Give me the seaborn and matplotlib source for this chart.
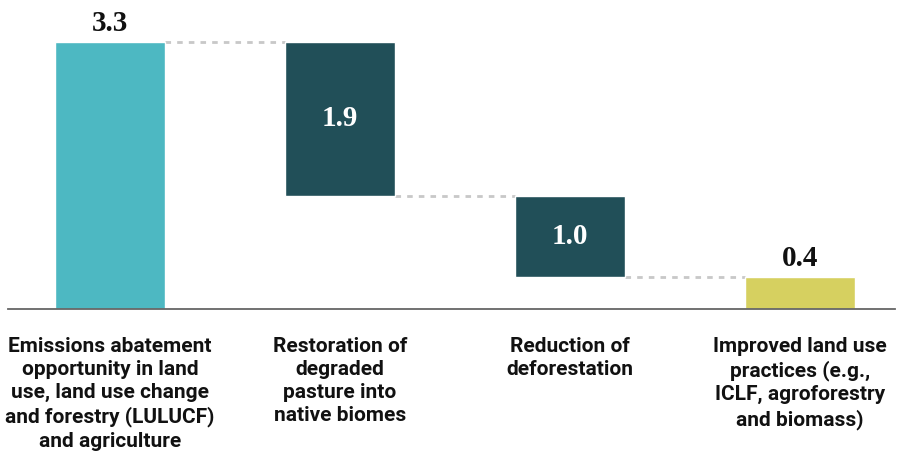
import pandas as pd
import matplotlib
matplotlib.use("Agg")
import matplotlib.pyplot as plt
import seaborn as sns

# data
categories = [
    "Emissions abatement\nopportunity in land\nuse, land use change\nand forestry (LULUCF)\nand agriculture",
    "Restoration of\ndegraded\npasture into\nnative biomes",
    "Reduction of\ndeforestation",
    "Improved land use\npractices (e.g.,\nICLF, agroforestry\nand biomass)",
]
values = [3.3, 1.9, 1.0, 0.4]
kinds = ["total", "step", "step", "total"]
colors = ["#4db8c2", "#214f58", "#214f58", "#d6d060"]

# waterfall bases: totals start at 0, steps hang down from the previous level
bases = []
level = 0
for v, k in zip(values, kinds):
    if k == "total":
        bases.append(0)
        level = v
    else:
        level = level - v
        bases.append(level)

df = pd.DataFrame({"category": categories, "value": values, "base": bases})

sns.set_style("white")
plt.rcParams["font.family"] = ["Roboto", "DejaVu Sans"]

fig = plt.figure(figsize=(9.03, 4.51), dpi=100)
ax = fig.add_axes([8 / 903, 142 / 451, 887 / 903, 309 / 451])

sns.barplot(data=df, x="category", y="value", hue="category", palette=colors,
            legend=False, width=0.48, saturation=1, ax=ax)

# move each bar to its waterfall base
for patch, b in zip(ax.patches, bases):
    patch.set_y(b)

# dashed connectors between bars
for i in range(len(values) - 1):
    top = bases[i] + values[i] if kinds[i] == "total" else bases[i]
    ax.plot([i + 0.24, i + 1 - 0.24], [top, top], color="#c8c8c8",
            lw=2, ls=(0, (2, 2.2)), zorder=0)

# value labels
for i, (v, b, k) in enumerate(zip(values, bases, kinds)):
    if k == "total":
        ax.annotate(f"{v:.1f}", (i, b + v), xytext=(0, 8), textcoords="offset points",
                    ha="center", va="baseline", fontsize=21, fontweight="bold",
                    family="Liberation Serif", color="#111111")
    else:
        ax.text(i, b + v / 2, f"{v:.1f}", ha="center", va="center", fontsize=21,
                fontweight="bold", family="Liberation Serif", color="white")

ax.set_xlim(-0.443, 3.413)
ax.set_ylim(0, 309 / 80.9)
ax.set_xlabel("")
ax.set_ylabel("")
ax.set_yticks([])
ax.tick_params(axis="x", length=0, pad=20)
ax.set_xticks(range(len(categories)))
ax.set_xticklabels(categories, fontsize=15, fontweight="bold", color="#111111",
                   linespacing=1.28, va="top")
for s in ["top", "left", "right"]:
    ax.spines[s].set_visible(False)
ax.spines["bottom"].set_color("#666666")
ax.spines["bottom"].set_linewidth(1.3)

fig.savefig("out.png", dpi=100)
